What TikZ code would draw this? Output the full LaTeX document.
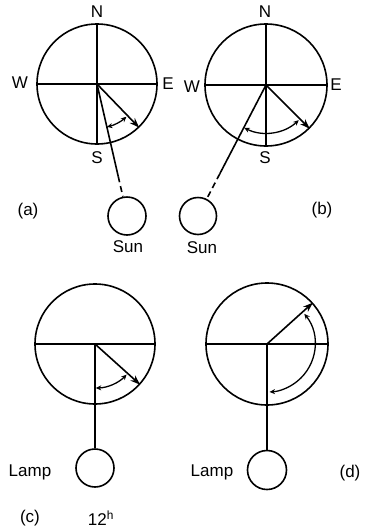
\documentclass[tikz,border=0pt]{standalone}
\usepackage{fontspec}
\setmainfont{Liberation Sans}
\usetikzlibrary{arrows.meta,calc}
\begin{document}
\begin{tikzpicture}[x=1pt,y=1pt,
  line width=1.6pt,
  disc/.style={circle,draw,inner sep=0pt,minimum size=#1},
  lbl/.style={font=\fontsize{17}{17}\selectfont,inner sep=0pt},
  ray/.style={-{Stealth[length=10pt,width=7pt]}},
  sweep/.style={line width=1.3pt,{Stealth[length=5.5pt,width=5pt]}-{Stealth[length=5.5pt,width=5pt]}},
  dsh/.style={dash pattern=on 6pt off 4pt}]
\useasboundingbox (0,0) rectangle (365,-528);

% ---------- (a)
\node[disc=120pt] (A) at (97,-84) {};
\node[disc=38pt] (SA) at (127,-216) {};
\draw (A.north) -- (A.south);
\draw (A.west) -- (A.east);
\draw[ray] (A.center) -- (A.-46);
\coordinate (a1) at ($(A.center)!0.82!(SA.102)$);
\draw (A.center) -- (a1);
\draw[dsh] (a1) -- (SA.102);
\draw[sweep] ([shift={(-77:44)}]A.center) arc[start angle=-77,end angle=-48,radius=44];
\node[lbl] (aN) at (97,-12) {N};
\node[lbl] (aW) at (20,-83) {W};
\node[lbl] (aE) at (168,-84) {E};
\node[lbl] (aS) at (97,-158) {S};
\node[lbl] (la) at (28,-211) {(a)};
\node[lbl] (sa) at (128,-247) {Sun};

% ---------- (b)
\node[disc=122pt] (B) at (266,-85) {};
\node[disc=37pt] (SB) at (198,-216) {};
\draw (B.north) -- (B.south);
\draw (B.west) -- (B.east);
\draw[ray] (B.center) -- (B.-45);
\coordinate (b1) at ($(B.center)!0.78!(SB.63)$);
\draw (B.center) -- (b1);
\draw[dsh] (b1) -- (SB.63);
\draw[sweep] ([shift={(-117:48)}]B.center) arc[start angle=-117,end angle=-47,radius=48];
\node[lbl] (bN) at (265,-12) {N};
\node[lbl] (bW) at (192,-87) {W};
\node[lbl] (bE) at (336,-85) {E};
\node[lbl] (bS) at (265,-158) {S};
\node[lbl] (lb) at (322,-210) {(b)};
\node[lbl] (sb) at (202,-248) {Sun};

% ---------- (c)
\node[disc=120pt] (C) at (95,-344) {};
\node[disc=38pt] (LC) at (95,-468) {};
\draw (C.west) -- (C.east);
\draw (C.center) -- (LC.north);
\draw[ray] (C.center) -- (C.-42);
\draw[sweep] ([shift={(-89:44)}]C.center) arc[start angle=-89,end angle=-44,radius=44];
\node[lbl] (lampc) at (30,-472) {Lamp};
\node[lbl] (lc) at (30,-518) {(c)};
\node[lbl] (tw) at (101,-518) {12\textsuperscript{h}};

% ---------- (d)
\node[disc=122pt] (D) at (267,-344) {};
\node[disc=39pt] (LD) at (267,-470) {};
\draw (D.west) -- (D.east);
\draw (D.center) -- (LD.north);
\draw[ray] (D.center) -- (D.42);
\draw[sweep] ([shift={(39:48)}]D.center) arc[start angle=39,end angle=-87,radius=48];
\node[lbl] (lampd) at (212,-472) {Lamp};
\node[lbl] (ld) at (350,-473) {(d)};
\end{tikzpicture}
\end{document}
